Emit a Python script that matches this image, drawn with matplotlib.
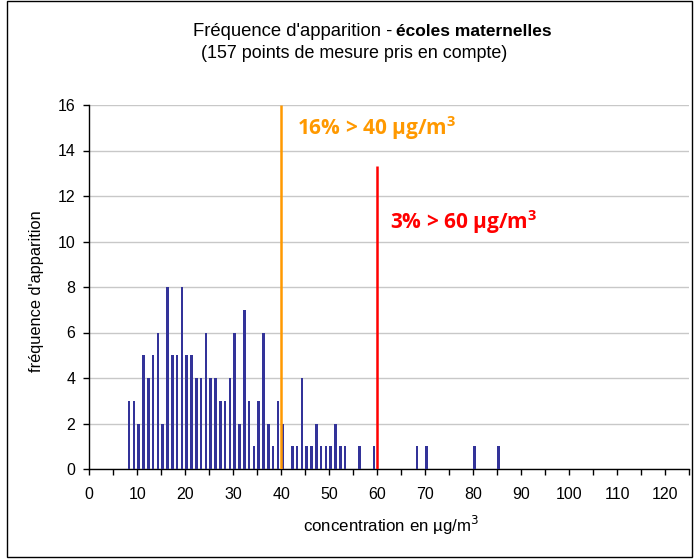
import matplotlib
matplotlib.use("Agg")
import matplotlib.pyplot as plt
from matplotlib.patches import Rectangle

plt.rcParams['font.family'] = ['Liberation Sans', 'DejaVu Sans']

concentration = [8, 9, 10, 11, 12, 13, 14, 15, 16, 17, 18, 19, 20, 21, 22, 23, 24, 25, 26,
                 27, 28, 29, 30, 31, 32, 33, 34, 35, 36, 37, 38, 39, 40,
                 42, 43, 44, 45, 46, 47, 48, 49, 50, 51, 52, 53, 56, 59,
                 68, 70, 80, 85]
frequence = [3, 3, 2, 5, 4, 5, 6, 2, 8, 5, 5, 8, 5, 5, 4, 4, 6, 4, 4,
             3, 3, 4, 6, 2, 7, 3, 1, 3, 6, 2, 1, 3, 2,
             1, 1, 4, 1, 1, 2, 1, 1, 1, 2, 1, 1, 1, 1,
             1, 1, 1, 1]
seuils = [40, 60]
seuil_hauteurs = [16, 13.3]
seuil_couleurs = ['#FF9900', '#FF0000']
seuil_textes = ['16% > 40 µg/m$^3$', '3% > 60 µg/m$^3$']
x_labels = [0, 10, 20, 30, 40, 50, 60, 70, 80, 90, 100, 110, 120]
y_ticks = [0, 2, 4, 6, 8, 10, 12, 14, 16]

W, H = 694, 559
fig = plt.figure(figsize=(W / 100, H / 100), dpi=100)
ax = fig.add_axes([89.3 / W, 1 - 469 / H, 600 / W, (469 - 105) / H])

ax.bar(concentration, frequence, width=0.56, align='edge', color='#333399', zorder=3)

for s, h, c in zip(seuils, seuil_hauteurs, seuil_couleurs):
    ax.plot([s, s], [0, h], color=c, lw=1.8, zorder=4, solid_capstyle='butt')

plt.rcParams['mathtext.fontset'] = 'custom'
plt.rcParams['mathtext.rm'] = 'Open Sans:bold'
plt.rcParams['mathtext.it'] = 'Open Sans:bold'
plt.rcParams['mathtext.bf'] = 'Open Sans:bold'

ax.text(43.3, 15.0, seuil_textes[0], color=seuil_couleurs[0], fontsize=15,
        fontweight='bold', va='center', ha='left', family=['Open Sans'])
ax.text(62.6, 10.85, seuil_textes[1], color=seuil_couleurs[1], fontsize=15,
        fontweight='bold', va='center', ha='left', family=['Open Sans'])

ax.set_xlim(0, 125)
ax.set_ylim(0, 16)
ax.set_xticks(list(range(0, 126, 5)))
ax.set_xticklabels([str(v) if v in x_labels else '' for v in range(0, 126, 5)], fontsize=11.5)
ax.set_yticks(y_ticks)
ax.set_yticklabels([str(v) for v in y_ticks], fontsize=11.5)
ax.tick_params(axis='both', direction='out', length=4, width=1, color='black')
ax.tick_params(axis='x', pad=9)
ax.tick_params(axis='y', pad=6)
ax.yaxis.grid(True, color='#c8c8c8', lw=1, zorder=0)
ax.set_axisbelow(True)
for sp in ['top', 'right']:
    ax.spines[sp].set_visible(False)
for sp in ['left', 'bottom']:
    ax.spines[sp].set_color('black')
    ax.spines[sp].set_linewidth(1)

fig.text(392 / W, 1 - 32 / H, "Fréquence d'apparition -", ha='right', va='center', fontsize=13.3)
fig.text(396 / W, 1 - 32 / H, "écoles maternelles", ha='left', va='center', fontsize=12.5,
         fontweight='bold')
fig.text(354 / W, 1 - 54 / H, "(157 points de mesure pris en compte)", ha='center',
         va='center', fontsize=12.9)
fig.text(391 / W, 1 - 525 / H, "concentration en µg/m$^3$", ha='center', va='center',
         fontsize=12.2, family=['Liberation Sans'], math_fontfamily='dejavusans')
fig.text(37 / W, 1 - 291 / H, "fréquence d'apparition", ha='center', va='center',
         rotation=90, fontsize=11.8)

fig.patches.append(Rectangle((7 / W, 2 / H), 685 / W, 556 / H, transform=fig.transFigure,
                             fill=False, edgecolor='black', lw=1))

fig.savefig('out.png', dpi=100)
